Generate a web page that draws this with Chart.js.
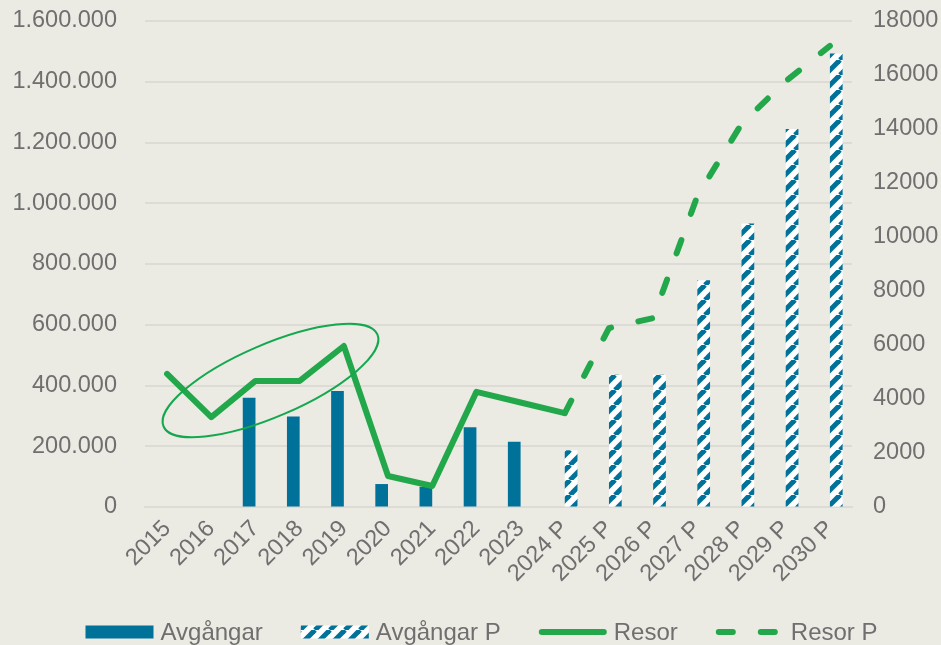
<!DOCTYPE html>
<html>
<head>
<meta charset="utf-8">
<script src="https://cdn.jsdelivr.net/npm/chart.js@4.4.1/dist/chart.umd.min.js"></script>
<style>
  html, body { margin: 0; padding: 0; background: #ebeae3; }
  #wrap { width: 941px; height: 645px; position: relative; }
</style>
</head>
<body>
<div id="wrap"><canvas id="chart"></canvas></div>
<script>
const categories = ["2015", "2016", "2017", "2018", "2019", "2020", "2021", "2022", "2023",
  "2024 P", "2025 P", "2026 P", "2027 P", "2028 P", "2029 P", "2030 P"];

// departures (right axis)
const avgangar = [null, null, 4050, 3350, 4300, 850, 750, 2950, 2420,
  null, null, null, null, null, null, null];
const avgangarP = [null, null, null, null, null, null, null, null, null,
  2100, 4900, 4900, 8400, 10500, 14000, 16800];

// trips (left axis)
const resor = [438000, 296000, 415000, 415000, 530000, 102000, 69000, 379000, 344000,
  309000, null, null, null, null, null, null];
const resorP = [null, null, null, null, null, null, null, null, null,
  309000, 589000, 622000, 1024000, 1261000, 1402000, 1518000];

const leftTicks = [0, 200000, 400000, 600000, 800000, 1000000, 1200000, 1400000, 1600000];
const rightTicks = [0, 2000, 4000, 6000, 8000, 10000, 12000, 14000, 16000, 18000];

// highlighted period: ends of the ellipse's long axis (category index, trips)
const ringStart = [-0.08, 265000];
const ringEnd = [4.76, 568000];
const ringRatio = 0.31;

const TEAL = "#00729a";
const GREEN = "#22a84a";
const TEXT = "#6f6f6f";

function makeHatch() {
  const size = 15;
  const c = document.createElement("canvas");
  c.width = size;
  c.height = size;
  const g = c.getContext("2d");
  g.fillStyle = "#ffffff";
  g.fillRect(0, 0, size, size);
  g.strokeStyle = TEAL;
  g.lineWidth = 5;
  for (let k = -1; k <= 1; k++) {
    g.beginPath();
    g.moveTo(k * size, size);
    g.lineTo(k * size + size, 0);
    g.stroke();
  }
  return g.createPattern(c, "repeat");
}

function dotted(n) {
  return String(n).replace(/\B(?=(\d{3})+(?!\d))/g, ".");
}

const background = {
  id: "background",
  beforeDraw(chart) {
    const ctx = chart.ctx;
    ctx.save();
    ctx.fillStyle = "#ebeae3";
    ctx.fillRect(0, 0, chart.width, chart.height);
    ctx.restore();
  }
};

const ring = {
  id: "ring",
  afterDatasetsDraw(chart) {
    const xs = chart.scales.x;
    const ys = chart.scales.y;
    const x1 = xs.getPixelForValue(ringStart[0]);
    const y1 = ys.getPixelForValue(ringStart[1]);
    const x2 = xs.getPixelForValue(ringEnd[0]);
    const y2 = ys.getPixelForValue(ringEnd[1]);
    const a = Math.hypot(x2 - x1, y2 - y1) / 2;
    const ctx = chart.ctx;
    ctx.save();
    ctx.strokeStyle = "#13a84e";
    ctx.lineWidth = 2;
    ctx.beginPath();
    ctx.ellipse((x1 + x2) / 2, (y1 + y2) / 2, a, a * ringRatio, Math.atan2(y2 - y1, x2 - x1), 0, Math.PI * 2);
    ctx.stroke();
    ctx.restore();
  }
};

const bottomLegend = {
  id: "bottomLegend",
  afterDraw(chart) {
    const ctx = chart.ctx;
    const swatch = 68, gap = 7, spacing = 38, midY = 632;
    ctx.save();
    ctx.font = '24px "Liberation Sans", Arial, sans-serif';
    const sets = chart.data.datasets;
    const widths = sets.map(function (ds) {
      return swatch + gap + ctx.measureText(ds.label).width;
    });
    const total = widths.reduce(function (s, w) { return s + w; }, 0) + spacing * (sets.length - 1);
    let x = 481.5 - total / 2;
    sets.forEach(function (ds, i) {
      if (ds.type === "bar") {
        ctx.fillStyle = ds.backgroundColor;
        ctx.fillRect(x, midY - 6.5, swatch, 13);
      } else {
        ctx.strokeStyle = ds.borderColor;
        ctx.lineWidth = 6;
        ctx.lineCap = "round";
        ctx.setLineDash(ds.borderDash || []);
        ctx.beginPath();
        ctx.moveTo(x + 3, midY);
        ctx.lineTo(x + swatch - 3, midY);
        ctx.stroke();
        ctx.setLineDash([]);
      }
      ctx.fillStyle = TEXT;
      ctx.textBaseline = "alphabetic";
      ctx.fillText(ds.label, x + swatch + gap, midY + 7.5);
      x += widths[i] + spacing;
    });
    ctx.restore();
  }
};

Chart.defaults.font.family = '"Liberation Sans", Arial, sans-serif';
Chart.defaults.font.size = 23.5;
Chart.defaults.color = TEXT;

new Chart(document.getElementById("chart"), {
  type: "bar",
  data: {
    labels: categories,
    datasets: [
      {
        type: "bar",
        label: "Avgångar",
        data: avgangar,
        backgroundColor: TEAL,
        yAxisID: "y1",
        order: 2,
        categoryPercentage: 0.575,
        barPercentage: 1
      },
      {
        type: "bar",
        label: "Avgångar P",
        data: avgangarP,
        backgroundColor: makeHatch(),
        yAxisID: "y1",
        order: 2,
        categoryPercentage: 0.575,
        barPercentage: 1
      },
      {
        type: "line",
        label: "Resor",
        data: resor,
        borderColor: GREEN,
        borderWidth: 6,
        pointRadius: 0,
        borderJoinStyle: "round",
        borderCapStyle: "round",
        tension: 0,
        yAxisID: "y",
        order: 1
      },
      {
        type: "line",
        label: "Resor P",
        data: resorP,
        borderColor: GREEN,
        borderWidth: 6,
        borderDash: [14, 28],
        pointRadius: 0,
        borderJoinStyle: "round",
        borderCapStyle: "round",
        tension: 0,
        yAxisID: "y",
        order: 1
      }
    ]
  },
  options: {
    responsive: true,
    maintainAspectRatio: false,
    animation: false,
    layout: { padding: { top: 21, bottom: 50, left: 0, right: 0 } },
    plugins: {
      legend: { display: false },
      tooltip: { enabled: false }
    },
    scales: {
      x: {
        grid: { display: false, drawTicks: false },
        border: { display: true, color: "#dcdbd5", width: 2 },
        ticks: { maxRotation: 45, minRotation: 45, padding: 8, autoSkip: false },
        afterFit: function (scale) { scale.height = 88; }
      },
      y: {
        position: "left",
        min: 0,
        max: 1600000,
        afterBuildTicks: function (scale) {
          scale.ticks = leftTicks.map(function (v) { return { value: v }; });
        },
        ticks: {
          padding: 0,
          callback: function (value) { return dotted(value); }
        },
        grid: { color: "#dcdbd5", lineWidth: 2, drawTicks: true, tickLength: 28, tickColor: "rgba(0,0,0,0)" },
        border: { display: false },
        afterFit: function (scale) { scale.width = 145; }
      },
      y1: {
        position: "right",
        min: 0,
        max: 18000,
        afterBuildTicks: function (scale) {
          scale.ticks = rightTicks.map(function (v) { return { value: v }; });
        },
        ticks: {
          padding: 0,
          callback: function (value) { return String(value); }
        },
        grid: { display: true, drawOnChartArea: false, drawTicks: true, tickLength: 21, tickColor: "rgba(0,0,0,0)" },
        border: { display: false },
        afterFit: function (scale) { scale.width = 89; }
      }
    }
  },
  plugins: [background, ring, bottomLegend]
});
</script>
</body>
</html>
